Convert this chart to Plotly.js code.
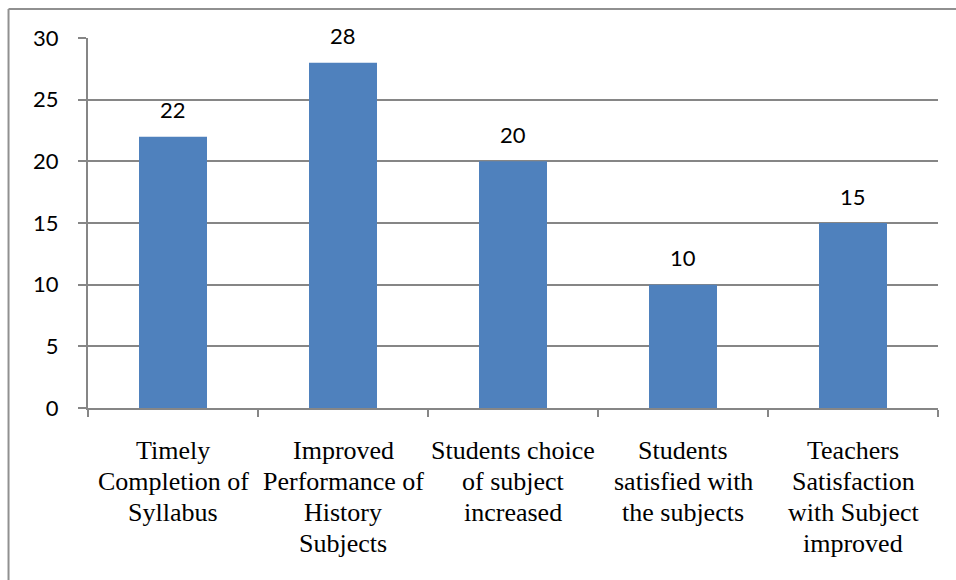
<!DOCTYPE html>
<html>
<head>
<meta charset="utf-8">
<script src="https://cdn.plot.ly/plotly-3.0.1.min.js"></script>
<style>
  body { margin: 0; background: #fff; }
  #chart { position: absolute; left: 0; top: 0; width: 956px; height: 580px; }
  #chart text { fill: #000 !important; }
  .face { position: absolute; left: 0; top: 0; color: transparent; }
</style>
</head>
<body>
<span class="face" style="font: 26px 'Liberation Serif'">&nbsp;</span>
<span class="face" style="font: 22px 'Lato'">&nbsp;</span>
<div id="chart"></div>
<script>
// Survey outcomes per item
const categories = [
  "Timely Completion of Syllabus",
  "Improved Performance of History Subjects",
  "Students choice of subject increased",
  "Students satisfied with the subjects",
  "Teachers Satisfaction with Subject improved"
];
// wrapped lines for each category label
const categoryLines = [
  ["Timely", "Completion of", "Syllabus"],
  ["Improved", "Performance of", "History", "Subjects"],
  ["Students choice", "of subject", "increased"],
  ["Students", "satisfied with", "the subjects"],
  ["Teachers", "Satisfaction", "with Subject", "improved"]
];
const values = [22, 28, 20, 10, 15];
const yTicks = [0, 5, 10, 15, 20, 25, 30];

const LINE_STEP = 31;

const trace = {
  type: "bar",
  x: categories,
  y: values,
  marker: { color: "#4F81BD" },
  hoverinfo: "none"
};

// value labels above each bar
const valueLabels = categories.map((c, i) => ({
  x: c, y: values[i], xref: "x", yref: "y",
  text: String(values[i]), showarrow: false,
  yanchor: "middle", yshift: 27,
  font: { family: "Lato", size: 22 }
}));

// category labels below the axis, one annotation per line
const catLabels = [];
categoryLines.forEach((lines, i) => {
  lines.forEach((line, j) => {
    catLabels.push({
      x: categories[i], y: 0, xref: "x", yref: "y",
      text: line, showarrow: false,
      yanchor: "middle", yshift: -(42 + j * LINE_STEP),
      font: { family: "Liberation Serif", size: 26 }
    });
  });
});

// chart-area border along the left and top edges
const frameLine = { color: "#909090", width: 2 };
const frameShapes = [
  { type: "line", xref: "paper", yref: "paper", x0: -0.0935, x1: -0.0935, y0: -0.6, y1: 1.0785, line: frameLine },
  { type: "line", xref: "paper", yref: "paper", x0: -0.0935, x1: 1.1, y0: 1.0785, y1: 1.0785, line: frameLine }
];

const layout = {
  width: 956, height: 580,
  margin: { l: 88, r: 18, t: 38, b: 172 },
  paper_bgcolor: "#fff",
  plot_bgcolor: "#fff",
  showlegend: false,
  bargap: 0.6,
  xaxis: {
    type: "category",
    tickson: "boundaries",
    ticks: "outside", ticklen: 7, tickcolor: "#868686", tickwidth: 2,
    showline: true, linecolor: "#868686", linewidth: 2,
    showgrid: false,
    showticklabels: false
  },
  yaxis: {
    range: [0, 30],
    tickvals: yTicks,
    ticktext: yTicks.map(String),
    ticks: "outside", ticklen: 8, tickcolor: "#868686", tickwidth: 2,
    showline: true, linecolor: "#868686", linewidth: 2,
    showgrid: true, gridcolor: "#868686", gridwidth: 2,
    zeroline: false,
    ticklabelstandoff: 15,
    tickfont: { family: "Lato", size: 22 }
  },
  shapes: frameShapes,
  annotations: valueLabels.concat(catLabels)
};

Plotly.newPlot("chart", [trace], layout, { staticPlot: true });
</script>
</body>
</html>
